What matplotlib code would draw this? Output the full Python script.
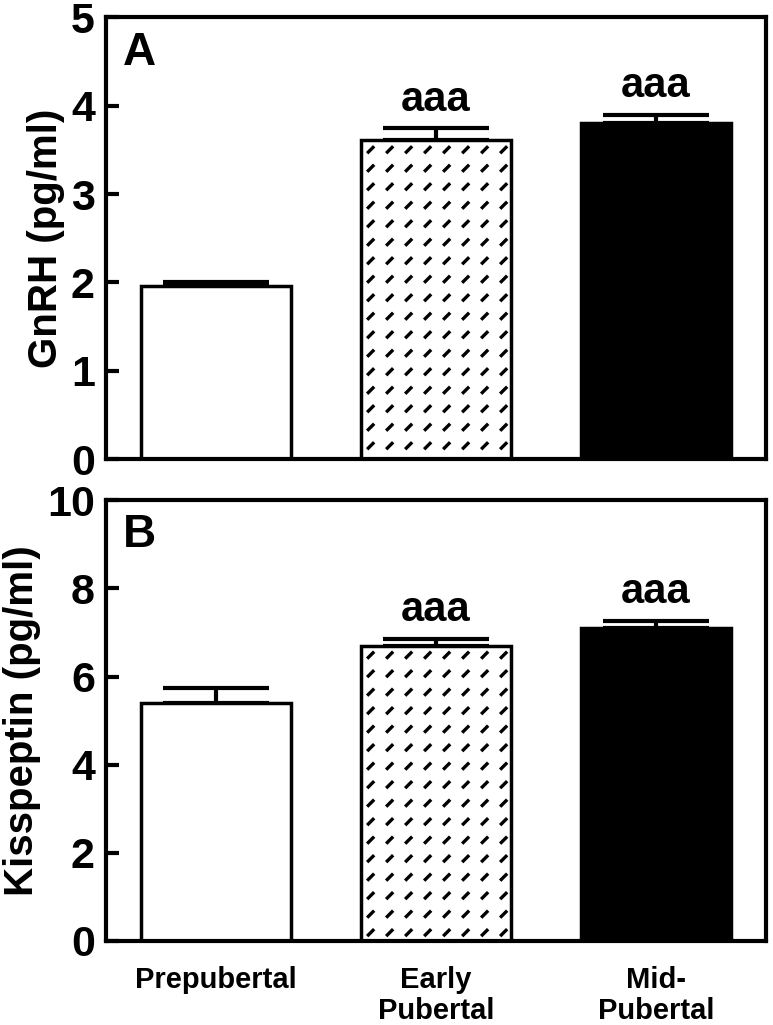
import numpy as np
import matplotlib
matplotlib.use("Agg")
import matplotlib.pyplot as plt
from matplotlib.collections import LineCollection
from matplotlib.transforms import IdentityTransform

plt.rcParams['font.family'] = ['Liberation Sans', 'DejaVu Sans']
plt.rcParams['font.weight'] = 'bold'

groups = ["Prepubertal", "Early\nPubertal", "Mid-\nPubertal"]
gnrh = [1.96, 3.61, 3.81]
gnrh_err = [0.05, 0.14, 0.09]
kiss = [5.41, 6.70, 7.10]
kiss_err = [0.34, 0.16, 0.17]
sig = ["", "aaa", "aaa"]

fig = plt.figure(figsize=(7.73, 10.25), dpi=100)
axA = fig.add_axes([0.137, 0.552, 0.854, 0.431])
axB = fig.add_axes([0.137, 0.082, 0.854, 0.430])

x = np.arange(len(groups))
width = 0.68
faces = ["white", "white", "black"]


def dash_fill(ax, bar):
    # short slanted dashes on a grid, clipped to the bar
    (x0, y0), (x1, y1) = ax.transData.transform([[bar.get_x(), 0],
                                                 [bar.get_x() + bar.get_width(), bar.get_height()]])
    segs = []
    for yy in np.arange(y1 - 13, y0, -18.5):
        for xx in np.arange(x0 + 6, x1, 19):
            segs.append([(xx, yy), (xx + 7, yy + 7)])
    lc = LineCollection(segs, colors="black", linewidths=2.4, transform=IdentityTransform(), zorder=2.5)
    ax.add_collection(lc)
    lc.set_clip_path(bar)


def panel(ax, vals, errs, ymax, step, letter, ylabel):
    ax.set_xlim(-0.5, 2.5)
    ax.set_ylim(0, ymax)
    ax.errorbar(x, vals, yerr=[[0] * 3, errs], fmt="none", ecolor="black",
                elinewidth=3, capsize=38, capthick=3, zorder=1)
    bars = ax.bar(x, vals, width, color=faces, edgecolor="black", linewidth=2.5, zorder=2)
    fig.canvas.draw()
    dash_fill(ax, bars[1])
    for xi, v, e, s in zip(x, vals, errs, sig):
        if s:
            ax.annotate(s, (xi, v + e), xytext=(0, 6), textcoords="offset points",
                        ha="center", va="bottom", fontsize=30, fontweight="bold")
    ax.text(0.025, 0.97, letter, transform=ax.transAxes, ha="left", va="top",
            fontsize=33, fontweight="bold")
    ax.set_yticks(np.arange(0, ymax + 0.01, step))
    ax.set_ylabel(ylabel, fontsize=29, fontweight="bold", labelpad=4)
    for sp in ax.spines.values():
        sp.set_linewidth(3)
    ax.tick_params(axis="y", direction="in", length=9, width=3, labelsize=31, pad=8)
    ax.tick_params(axis="x", length=0)


panel(axA, gnrh, gnrh_err, 5, 1, "A", "GnRH (pg/ml)")
panel(axB, kiss, kiss_err, 10, 2, "B", "Kisspeptin (pg/ml)")
axA.set_xticks([])
axB.set_xticks(x)
axB.set_xticklabels(groups, fontsize=21, fontweight="bold", linespacing=1.15)
axB.tick_params(axis="x", pad=18)
fig.align_ylabels([axA, axB])
for t in axA.get_yticklabels() + axB.get_yticklabels():
    t.set_fontweight("bold")

fig.savefig("out.png", dpi=100)
